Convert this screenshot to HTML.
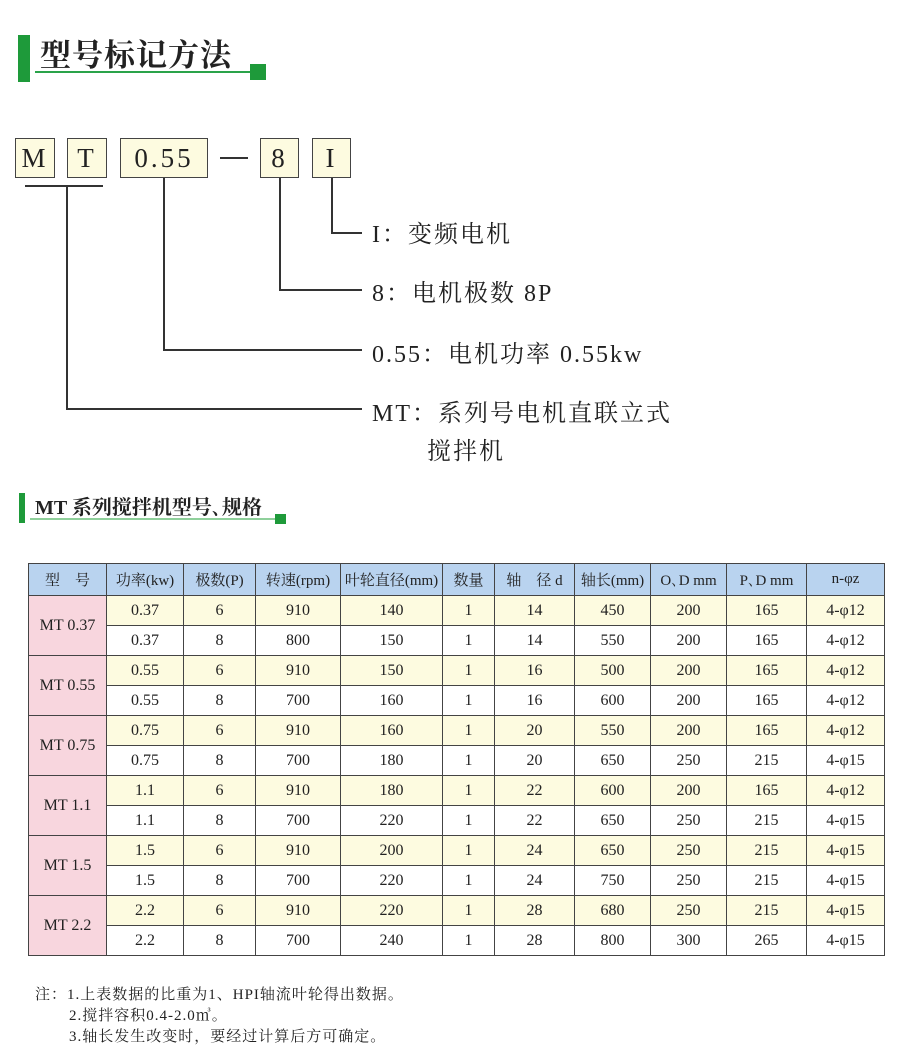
<!DOCTYPE html>
<html><head><meta charset="utf-8"><style>
body{margin:0;width:900px;height:1062px;background:#fff;position:relative;overflow:hidden;font-family:"Liberation Serif","Noto Serif CJK SC",serif;color:#222}
.a{position:absolute}
.box{position:absolute;background:#fdfbe0;border:1.5px solid #444;box-sizing:border-box;font-size:27px;text-align:center;line-height:38px;top:138px;height:40px;letter-spacing:3px}
.l{position:absolute;background:#333}
.t{position:absolute;font-size:24px;white-space:nowrap;letter-spacing:2px}
table{position:absolute;left:28px;top:563px;border-collapse:collapse;font-size:16px;table-layout:fixed}
td{border:1px solid #444;text-align:center;padding:0;height:29px;white-space:nowrap;overflow:hidden}
tr.h td{background:#b9d3ef;height:31px;font-size:15px}
tr.y td{background:#fdfbe0}
td.p{background:#f8d6de !important}
</style></head><body>
<div class="a" style="left:18px;top:35px;width:12px;height:47px;background:#1e9a3a"></div>
<div class="a" style="left:40px;top:30px;font-size:31px;font-weight:bold;font-family:'Noto Serif CJK SC',serif;letter-spacing:1px">型号标记方法</div>
<div class="a" style="left:35px;top:71px;width:215px;height:2px;background:#2aa34a"></div>
<div class="a" style="left:250px;top:64px;width:16px;height:16px;background:#1e9a3a"></div>

<div class="box" style="left:15px;width:40px">M</div>
<div class="box" style="left:67px;width:40px">T</div>
<div class="box" style="left:120px;width:88px">0.55</div>
<div class="l" style="left:220px;top:157px;width:28px;height:1.5px"></div>
<div class="box" style="left:260px;width:39px">8</div>
<div class="box" style="left:312px;width:39px">I</div>

<div class="l" style="left:25px;top:185px;width:78px;height:1.5px"></div>
<div class="l" style="left:66px;top:185px;width:1.5px;height:224px"></div>
<div class="l" style="left:66px;top:408px;width:296px;height:1.5px"></div>
<div class="l" style="left:163px;top:178px;width:1.5px;height:172px"></div>
<div class="l" style="left:163px;top:349px;width:199px;height:1.5px"></div>
<div class="l" style="left:279px;top:178px;width:1.5px;height:112px"></div>
<div class="l" style="left:279px;top:289px;width:83px;height:1.5px"></div>
<div class="l" style="left:331px;top:178px;width:1.5px;height:54px"></div>
<div class="l" style="left:331px;top:232px;width:31px;height:1.5px"></div>

<div class="t" style="left:372px;top:214px">I：变频电机</div>
<div class="t" style="left:372px;top:273px">8：电机极数 8P</div>
<div class="t" style="left:372px;top:334px">0.55：电机功率 0.55kw</div>
<div class="t" style="left:372px;top:393px">MT：系列号电机直联立式</div>
<div class="t" style="left:427px;top:431px">搅拌机</div>

<div class="a" style="left:19px;top:493px;width:6px;height:30px;background:#1e9a3a"></div>
<div class="a" style="left:35px;top:491px;font-size:20px;font-weight:bold;font-family:'Liberation Serif','Noto Serif CJK SC',serif">MT 系列搅拌机型号､规格</div>
<div class="a" style="left:30px;top:518px;width:246px;height:1.5px;background:#8fd09b"></div>
<div class="a" style="left:275px;top:514px;width:11px;height:10px;background:#1e9a3a"></div>

<table>
<colgroup><col style="width:78px"><col style="width:77px"><col style="width:72px"><col style="width:85px"><col style="width:102px"><col style="width:52px"><col style="width:80px"><col style="width:76px"><col style="width:76px"><col style="width:80px"><col style="width:78px"></colgroup>
<tr class="h"><td>型　号</td><td>功率(kw)</td><td>极数(P)</td><td>转速(rpm)</td><td>叶轮直径(mm)</td><td>数量</td><td>轴　径 d</td><td>轴长(mm)</td><td>O､D mm</td><td>P､D mm</td><td>n-φz</td></tr>
<tr class="y"><td class="p" rowspan="2">MT 0.37</td><td>0.37</td><td>6</td><td>910</td><td>140</td><td>1</td><td>14</td><td>450</td><td>200</td><td>165</td><td>4-φ12</td></tr>
<tr><td>0.37</td><td>8</td><td>800</td><td>150</td><td>1</td><td>14</td><td>550</td><td>200</td><td>165</td><td>4-φ12</td></tr>
<tr class="y"><td class="p" rowspan="2">MT 0.55</td><td>0.55</td><td>6</td><td>910</td><td>150</td><td>1</td><td>16</td><td>500</td><td>200</td><td>165</td><td>4-φ12</td></tr>
<tr><td>0.55</td><td>8</td><td>700</td><td>160</td><td>1</td><td>16</td><td>600</td><td>200</td><td>165</td><td>4-φ12</td></tr>
<tr class="y"><td class="p" rowspan="2">MT 0.75</td><td>0.75</td><td>6</td><td>910</td><td>160</td><td>1</td><td>20</td><td>550</td><td>200</td><td>165</td><td>4-φ12</td></tr>
<tr><td>0.75</td><td>8</td><td>700</td><td>180</td><td>1</td><td>20</td><td>650</td><td>250</td><td>215</td><td>4-φ15</td></tr>
<tr class="y"><td class="p" rowspan="2">MT 1.1</td><td>1.1</td><td>6</td><td>910</td><td>180</td><td>1</td><td>22</td><td>600</td><td>200</td><td>165</td><td>4-φ12</td></tr>
<tr><td>1.1</td><td>8</td><td>700</td><td>220</td><td>1</td><td>22</td><td>650</td><td>250</td><td>215</td><td>4-φ15</td></tr>
<tr class="y"><td class="p" rowspan="2">MT 1.5</td><td>1.5</td><td>6</td><td>910</td><td>200</td><td>1</td><td>24</td><td>650</td><td>250</td><td>215</td><td>4-φ15</td></tr>
<tr><td>1.5</td><td>8</td><td>700</td><td>220</td><td>1</td><td>24</td><td>750</td><td>250</td><td>215</td><td>4-φ15</td></tr>
<tr class="y"><td class="p" rowspan="2">MT 2.2</td><td>2.2</td><td>6</td><td>910</td><td>220</td><td>1</td><td>28</td><td>680</td><td>250</td><td>215</td><td>4-φ15</td></tr>
<tr><td>2.2</td><td>8</td><td>700</td><td>240</td><td>1</td><td>28</td><td>800</td><td>300</td><td>265</td><td>4-φ15</td></tr>
</table>

<div class="a" style="left:35px;top:985px;font-size:15px;line-height:21px;white-space:nowrap;letter-spacing:1px">注：1.上表数据的比重为1、HPI轴流叶轮得出数据。<br><span style="padding-left:34px">2.搅拌容积0.4-2.0㎥。</span><br><span style="padding-left:34px">3.轴长发生改变时，要经过计算后方可确定。</span></div>
</body></html>
